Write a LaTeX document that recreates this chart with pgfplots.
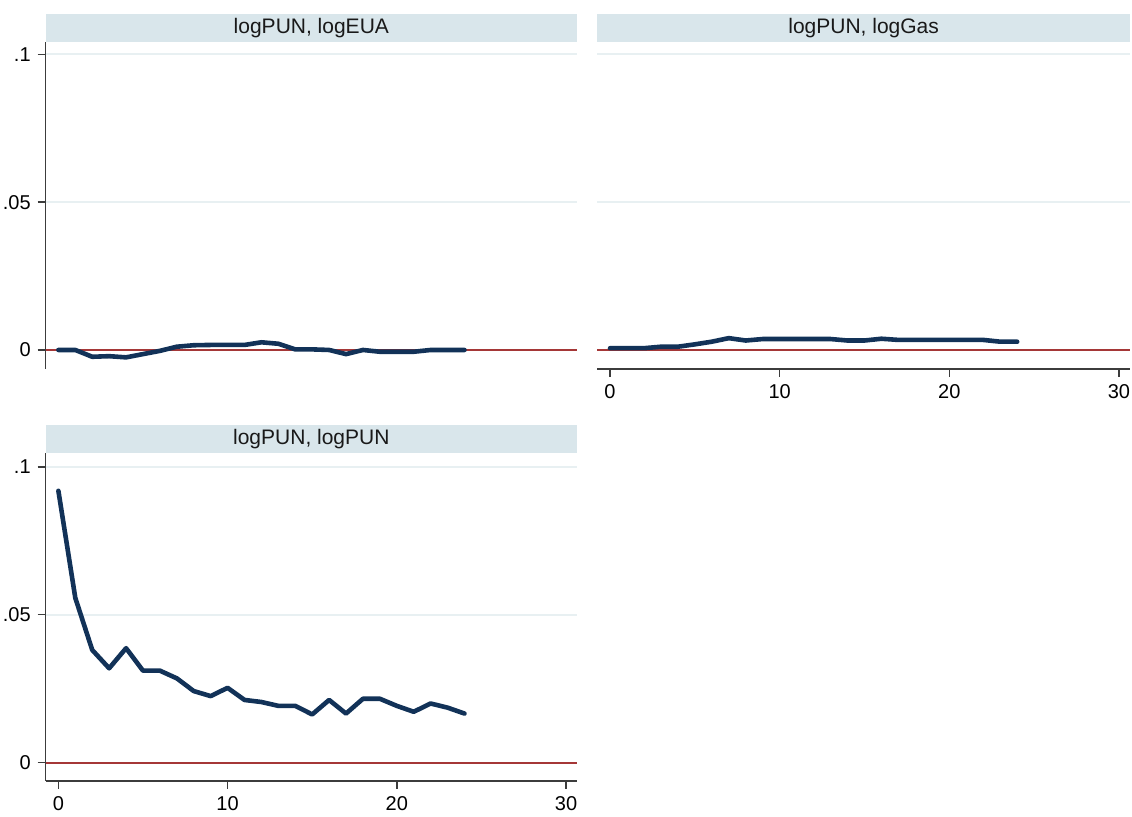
\documentclass[border=0pt]{standalone}
\usepackage{fontspec}
\setmainfont{Liberation Sans}
\usepackage{pgfplots}
\pgfplotsset{compat=1.18}
\definecolor{strip}{RGB}{217,230,235}
\definecolor{gridc}{RGB}{232,240,242}
\definecolor{navyl}{RGB}{18,50,88}
\definecolor{refred}{RGB}{165,55,55}
\definecolor{axc}{RGB}{60,60,60}
\pgfplotsset{
  stata/.style={
    scale only axis,
    xmin=-0.75, xmax=30.65,
    axis lines*=left,
    axis line style={axc, line width=0.7pt, -},
    tick style={axc, line width=0.7pt},
    tick align=outside,
    major tick length=4pt,
    xtick={0,10,20,30},
    xticklabels={0,10,20,30},
    ytick={0,0.05,0.1},
    yticklabels={0,.05,.1},
    ymajorgrids,
    major grid style={gridc, line width=0.9pt},
    tick label style={font=\fontsize{10}{12}\selectfont, text=black},
    /pgf/number format/assume math mode=true,
    title style={at={(0.5,1)}, anchor=south, yshift=-6pt, fill=strip, inner sep=0pt,
      minimum height=14pt, font=\fontsize{10.5}{12}\selectfont, text=black!90},
    clip=false,
  },
  noxaxis/.style={x axis line style={draw=none}, xticklabels={}, xtick style={draw=none}},
  noyaxis/.style={y axis line style={draw=none}, yticklabels={}, ytick style={draw=none}},
  refl/.style={refred, line width=0.9pt},
  dat/.style={navyl, line width=2.3pt, line join=round, line cap=round, mark=none},
}
\begin{document}
\begin{tikzpicture}
\path[use as bounding box] (0,0) rectangle (566pt,408.5pt);
% Top-left: logPUN, logEUA
\begin{axis}[stata, noxaxis, at={(22.85pt,224pt)}, anchor=south west,
  width=265.65pt, height=163.5pt, ymin=-0.00643, ymax=0.10416,
  title={logPUN, logEUA}, title style={minimum width=265.65pt}]
\addplot[refl] coordinates {(-0.75,0) (30.65,0)};
\addplot[dat] coordinates {
(0,0) (1,0) (2,-0.0023) (3,-0.0021) (4,-0.0025) (5,-0.0014) (6,-0.0003)
(7,0.0011) (8,0.0016) (9,0.0017) (10,0.0017) (11,0.0017) (12,0.0026)
(13,0.0021) (14,0.0002) (15,0.0002) (16,0) (17,-0.0014) (18,0)
(19,-0.0006) (20,-0.0006) (21,-0.0006) (22,0) (23,0) (24,0)};
\end{axis}
% Top-right: logPUN, logGas
\begin{axis}[stata, noyaxis, at={(298.65pt,224pt)}, anchor=south west,
  width=266.35pt, height=163.5pt, ymin=-0.00643, ymax=0.10416,
  title={logPUN, logGas}, title style={minimum width=266.35pt}]
\addplot[refl] coordinates {(-0.75,0) (30.65,0)};
\addplot[dat] coordinates {
(0,0.0006) (1,0.0006) (2,0.0006) (3,0.0011) (4,0.0011) (5,0.0019) (6,0.0028)
(7,0.0040) (8,0.0032) (9,0.0037) (10,0.0037) (11,0.0037) (12,0.0037)
(13,0.0037) (14,0.0032) (15,0.0032) (16,0.0038) (17,0.0034) (18,0.0034)
(19,0.0034) (20,0.0034) (21,0.0034) (22,0.0034) (23,0.0028) (24,0.0028)};
\end{axis}
% Bottom-left: logPUN, logPUN
\begin{axis}[stata, at={(22.85pt,18pt)}, anchor=south west,
  width=265.65pt, height=164pt, ymin=-0.0062, ymax=0.1047,
  title={logPUN, logPUN}, title style={minimum width=265.65pt}]
\addplot[refl] coordinates {(-0.75,0) (30.65,0)};
\addplot[dat] coordinates {
(0,0.0919) (1,0.0557) (2,0.0381) (3,0.0319) (4,0.0387) (5,0.0311) (6,0.0311)
(7,0.0285) (8,0.0242) (9,0.0225) (10,0.0253) (11,0.0212) (12,0.0205)
(13,0.0192) (14,0.0192) (15,0.0163) (16,0.0212) (17,0.0166) (18,0.0216)
(19,0.0216) (20,0.0192) (21,0.0172) (22,0.0200) (23,0.0186) (24,0.0166)};
\end{axis}
\end{tikzpicture}
\end{document}
